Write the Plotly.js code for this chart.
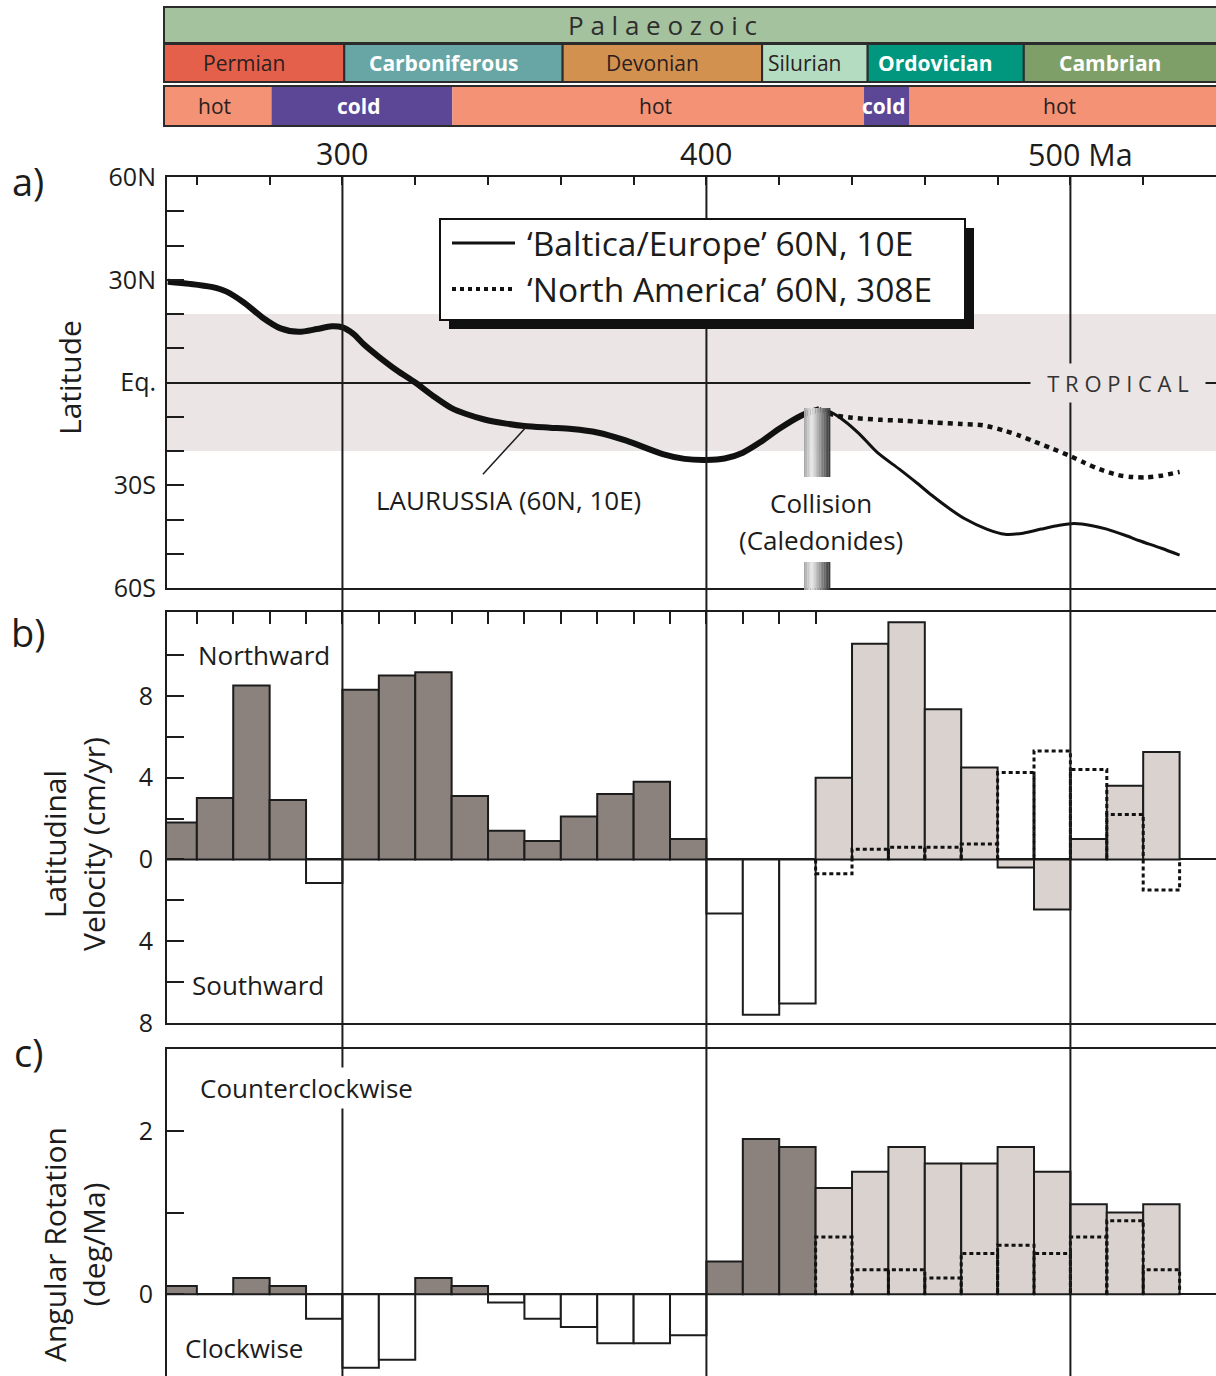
<!DOCTYPE html>
<html>
<head>
<meta charset="utf-8">
<script src="https://cdn.plot.ly/plotly-3.0.1.min.js"></script>
<style>
  html, body { margin: 0; padding: 0; background: #ffffff; }
  #chart { width: 1216px; height: 1376px; }
</style>
</head>
<body>
<div id="chart"></div>
<script>
// ------------------------------------------------------------------
// DATA
// ------------------------------------------------------------------
// Geological time scale
const eraName = 'Palaeozoic';
const periodNames = ['Permian', 'Carboniferous', 'Devonian', 'Silurian', 'Ordovician', 'Cambrian'];
const periodStart = [251, 300.5, 360.5, 415.3, 444.3, 487.2];
const periodEnd   = [300.5, 360.5, 415.3, 444.3, 487.2, 541];
const climateNames = ['hot', 'cold', 'hot', 'cold', 'hot'];
const climateStart = [251, 280.5, 330.2, 443.3, 455.8];
const climateEnd   = [280.5, 330.2, 443.3, 455.8, 541];

// x-axis ticks (Ma)
const ageLabelValues = [300, 400, 500];
const ageLabelText = ['300', '400', '500 Ma'];
const topTicksA = [260, 280, 300, 320, 340, 360, 380, 400, 420, 440, 460, 480, 500, 520];
const topTicksB = [260, 270, 280, 290, 300, 310, 320, 330, 340, 350, 360, 370, 380, 390, 400, 410, 420, 430];

// Panel a: latitude of reference point (60N, 10E) and (60N, 308E)
const baltOldAge = [252, 258, 264, 268, 273, 278, 283, 288, 293, 297, 300, 303, 306, 310, 315, 320, 325, 330, 334, 339, 345, 350, 357, 363, 370, 378, 388, 394, 400, 405, 410, 415, 420, 426, 431];
const baltOldLat = [29.4, 28.8, 27.9, 26.6, 23.3, 19.0, 15.8, 14.8, 15.6, 16.4, 16.1, 14.2, 11.0, 7.5, 3.5, 0.0, -4.0, -7.5, -9.2, -10.8, -12.0, -12.7, -13.2, -13.6, -14.6, -17.0, -20.9, -22.3, -22.6, -22.2, -20.5, -17.3, -13.5, -9.7, -7.8];
const baltYoungAge = [431, 434, 438, 442, 447, 453, 458, 462, 467, 471, 477, 482, 487, 492, 497, 501, 506, 510, 515, 519, 525, 530];
const baltYoungLat = [-7.8, -8.6, -11.3, -15.0, -20.5, -25.3, -29.5, -33.0, -37.0, -39.8, -42.8, -44.3, -44.0, -42.8, -41.7, -41.2, -41.8, -42.8, -44.6, -46.2, -48.4, -50.4];
const namAge = [431, 435, 440, 448, 455, 463, 470, 476, 482, 486, 490, 495, 500, 504, 508, 513, 517, 521, 525, 530];
const namLat = [-7.8, -9.5, -10.3, -10.9, -11.2, -11.7, -12.1, -12.5, -14.1, -15.5, -17.2, -19.3, -21.5, -23.5, -25.3, -27.0, -27.6, -27.7, -27.2, -26.1];

const tropicsLat = 20;          // tropical belt 20S - 20N
const collisionAge = 430;       // Caledonian collision (Ma)

// Panels b & c: 10 Myr bins
const binWidth = 10;
const binStart = [250, 260, 270, 280, 290, 300, 310, 320, 330, 340, 350, 360, 370, 380, 390, 400, 410, 420, 430, 440, 450, 460, 470, 480, 490, 500, 510, 520];
const velBaltica = [1.8, 3.0, 8.5, 2.9, -1.15, 8.3, 9.0, 9.15, 3.1, 1.4, 0.9, 2.1, 3.2, 3.8, 1.0, -2.65, -7.6, -7.05, 4.0, 10.55, 11.6, 7.35, 4.5, -0.4, -2.45, 1.0, 3.6, 5.25];
const rotBaltica = [0.1, 0.0, 0.2, 0.1, -0.3, -0.9, -0.8, 0.2, 0.1, -0.1, -0.3, -0.4, -0.6, -0.6, -0.5, 0.4, 1.9, 1.8, 1.3, 1.5, 1.8, 1.6, 1.6, 1.8, 1.5, 1.1, 1.0, 1.1];
const namBinStart = [430, 440, 450, 460, 470, 480, 490, 500, 510, 520];
const velNorthAmerica = [-0.7, 0.5, 0.6, 0.6, 0.75, 4.25, 5.3, 4.4, 2.2, -1.5];
const rotNorthAmerica = [0.7, 0.3, 0.3, 0.2, 0.5, 0.6, 0.5, 0.7, 0.9, 0.3];

// y-axis ticks
const latTickVals = [60, 50, 40, 30, 20, 10, 0, -10, -20, -30, -40, -50, -60];
const latTickText = ['60N', '', '', '30N', '', '', 'Eq.', '', '', '30S', '', '', '60S'];
const velTickVals = [10, 8, 6, 4, 2, 0, -2, -4, -6, -8];
const velTickText = ['', '8', '', '4', '', '0', '', '4', '', '8'];
const rotTickVals = [2, 1, 0];
const rotTickText = ['2', '', '0'];

// ------------------------------------------------------------------
// STYLE
// ------------------------------------------------------------------
const W = 1216, H = 1376, L = 167;
const px = p => (p - L) / (W - L);   // pixel x -> paper x
const py = p => 1 - p / H;           // pixel y -> paper y
const FONT = 'Open Sans, sans-serif';
const ink = '#1c1c1c';
const frame = '#2b2b2b';
const darkFill = '#8b827d';
const lightFill = '#d9d2cf';
const bandFill = '#ece5e5';
const eraFill = '#a5c29f';
const periodStyle = {
  Permian:       { fill: '#e4604a', text: '#2a2020', bold: false },
  Carboniferous: { fill: '#67a6a4', text: '#ffffff', bold: true },
  Devonian:      { fill: '#d3914f', text: '#2a2020', bold: false },
  Silurian:      { fill: '#b4dcc1', text: '#2a2020', bold: false },
  Ordovician:    { fill: '#00977e', text: '#ffffff', bold: true },
  Cambrian:      { fill: '#7f9f69', text: '#ffffff', bold: true }
};
const climateStyle = {
  hot:  { fill: '#f39274', text: '#2a2020', bold: false },
  cold: { fill: '#5c4696', text: '#ffffff', bold: true }
};
function fillFor(age, v) {
  if (age < collisionAge) return v >= 0 ? darkFill : '#ffffff';
  return lightFill;
}
function outline(starts, vals) {
  const xs = [], ys = [];
  starts.forEach((s, i) => {
    xs.push(s, s, s + binWidth, s + binWidth, null);
    ys.push(0, vals[i], vals[i], 0, null);
  });
  return { xs, ys };
}

// ------------------------------------------------------------------
// TRACES
// ------------------------------------------------------------------
const traces = [];
traces.push({ type: 'scatter', mode: 'lines', x: baltOldAge, y: baltOldLat, xaxis: 'x', yaxis: 'y',
  line: { color: '#111', width: 6, shape: 'spline', smoothing: 0.8 }, hoverinfo: 'skip', showlegend: false, name: 'Laurussia' });
traces.push({ type: 'scatter', mode: 'lines', x: baltYoungAge, y: baltYoungLat, xaxis: 'x', yaxis: 'y',
  line: { color: '#111', width: 3, shape: 'spline', smoothing: 0.8 }, hoverinfo: 'skip', showlegend: false, name: 'Baltica/Europe' });
traces.push({ type: 'scatter', mode: 'lines', x: namAge, y: namLat, xaxis: 'x', yaxis: 'y',
  line: { color: '#111', width: 4.5, dash: '5px,5px', shape: 'spline', smoothing: 0.8 }, hoverinfo: 'skip', showlegend: false, name: 'North America' });

traces.push({ type: 'bar', x: binStart, y: velBaltica, offset: 0, width: binWidth, xaxis: 'x2', yaxis: 'y2',
  marker: { color: velBaltica.map((v, i) => fillFor(binStart[i], v)), line: { color: ink, width: 2 } },
  hoverinfo: 'skip', showlegend: false, name: 'Baltica velocity' });
const vOut = outline(namBinStart, velNorthAmerica);
traces.push({ type: 'scatter', mode: 'lines', x: vOut.xs, y: vOut.ys, xaxis: 'x2', yaxis: 'y2', connectgaps: false,
  line: { color: '#111', width: 3, dash: '4px,3px' }, hoverinfo: 'skip', showlegend: false, name: 'North America velocity' });

traces.push({ type: 'bar', x: binStart, y: rotBaltica, offset: 0, width: binWidth, xaxis: 'x3', yaxis: 'y3',
  marker: { color: rotBaltica.map((v, i) => fillFor(binStart[i], v)), line: { color: ink, width: 2 } },
  hoverinfo: 'skip', showlegend: false, name: 'Baltica rotation' });
const rOut = outline(namBinStart, rotNorthAmerica);
traces.push({ type: 'scatter', mode: 'lines', x: rOut.xs, y: rOut.ys, xaxis: 'x3', yaxis: 'y3', connectgaps: false,
  line: { color: '#111', width: 3, dash: '4px,3px' }, hoverinfo: 'skip', showlegend: false, name: 'North America rotation' });

// ------------------------------------------------------------------
// SHAPES
// ------------------------------------------------------------------
const shapes = [];
// tropical belt
shapes.push({ type: 'rect', xref: 'paper', yref: 'y', x0: 0, x1: 1, y0: -tropicsLat, y1: tropicsLat,
  fillcolor: bandFill, line: { width: 0 }, layer: 'below' });
// time scale rows
const rowEra = [py(43), py(7)], rowPer = [py(82), py(44)], rowCli = [py(126), py(86)];
// small left caps (the rows start a few px left of the plot area)
[[rowEra, eraFill], [rowPer, periodStyle[periodNames[0]].fill], [rowCli, climateStyle[climateNames[0]].fill]].forEach(([r, c]) => {
  shapes.push({ type: 'rect', xref: 'paper', yref: 'paper', x0: px(164), x1: px(175), y0: r[0], y1: r[1],
    fillcolor: c, line: { color: frame, width: 2 }, layer: 'above' });
});
shapes.push({ type: 'rect', xref: 'x', yref: 'paper', x0: periodStart[0], x1: periodEnd[periodEnd.length - 1],
  y0: rowEra[0], y1: rowEra[1], fillcolor: eraFill, line: { color: frame, width: 2 }, layer: 'above' });
periodNames.forEach((n, i) => shapes.push({ type: 'rect', xref: 'x', yref: 'paper', x0: periodStart[i], x1: periodEnd[i],
  y0: rowPer[0], y1: rowPer[1], fillcolor: periodStyle[n].fill, line: { color: frame, width: 2 }, layer: 'above' }));
climateNames.forEach((n, i) => shapes.push({ type: 'rect', xref: 'x', yref: 'paper', x0: climateStart[i], x1: climateEnd[i],
  y0: rowCli[0], y1: rowCli[1], fillcolor: climateStyle[n].fill, line: { width: 0 }, layer: 'above' }));
shapes.push({ type: 'rect', xref: 'paper', yref: 'paper', x0: px(164), x1: 1.01, y0: rowCli[0], y1: rowCli[1],
  fillcolor: 'rgba(0,0,0,0)', line: { color: frame, width: 2 }, layer: 'above' });
// vertical reference lines at 300/400/500 Ma
ageLabelValues.forEach(a => shapes.push({ type: 'line', xref: 'x', yref: 'paper', x0: a, x1: a, y0: 0, y1: py(177),
  line: { color: ink, width: 2 }, layer: 'above' }));
// Laurussia pointer
shapes.push({ type: 'line', xref: 'x', yref: 'y', x0: 338.6, y0: -26.8, x1: 350.3, y1: -13.2, line: { color: ink, width: 1.5 }, layer: 'above' });
// collision bar (gradient imitation)
const nStripes = 16, cw = 7.2;
for (let k = 0; k < nStripes; k++) {
  const t = (k + 0.5) / nStripes;
  let g;
  if (t < 0.3) g = 160 + (236 - 160) * (t / 0.3);
  else g = 236 - (236 - 50) * ((t - 0.3) / 0.7);
  g = Math.round(g);
  const col = `rgb(${g},${g},${g})`;
  const x0 = collisionAge - 3.2 + cw * k / nStripes, x1 = collisionAge - 3.2 + cw * (k + 1) / nStripes + 0.05;
  shapes.push({ type: 'rect', xref: 'x', yref: 'paper', x0, x1, y0: py(477), y1: py(408), fillcolor: col, line: { width: 0 }, layer: 'above' });
  shapes.push({ type: 'rect', xref: 'x', yref: 'paper', x0, x1, y0: py(590), y1: py(562), fillcolor: col, line: { width: 0 }, layer: 'above' });
}
// legend box with shadow
shapes.push({ type: 'rect', xref: 'paper', yref: 'paper', x0: px(449), x1: px(974), y0: py(329), y1: py(228),
  fillcolor: '#111', line: { width: 0 }, layer: 'above' });
shapes.push({ type: 'rect', xref: 'paper', yref: 'paper', x0: px(440), x1: px(965), y0: py(320), y1: py(219),
  fillcolor: '#ffffff', line: { color: '#111', width: 2 }, layer: 'above' });
shapes.push({ type: 'line', xref: 'paper', yref: 'paper', x0: px(452), x1: px(515), y0: py(243), y1: py(243),
  line: { color: '#111', width: 3 }, layer: 'above' });
shapes.push({ type: 'line', xref: 'paper', yref: 'paper', x0: px(452), x1: px(515), y0: py(289), y1: py(289),
  line: { color: '#111', width: 4, dash: '4px,4px' }, layer: 'above' });

// ------------------------------------------------------------------
// ANNOTATIONS
// ------------------------------------------------------------------
const ann = [];
function A(text, x, y, o) {
  ann.push(Object.assign({ text, x, y, xref: 'paper', yref: 'paper', showarrow: false,
    xanchor: 'center', yanchor: 'middle', font: { family: FONT, size: 26, color: ink } }, o || {}));
}
// era and periods
A(eraName.split('').join(' '), px(662), py(25), { font: { family: FONT, size: 26, color: '#2e2e2e' } });
periodNames.forEach((n, i) => {
  const st = periodStyle[n];
  A(st.bold ? '<b>' + n + '</b>' : n, (periodStart[i] + Math.min(periodEnd[i], 540)) / 2, py(63),
    { xref: 'x', xshift: -10, font: { family: FONT, size: 21, color: st.text } });
});
climateNames.forEach((n, i) => {
  const st = climateStyle[n];
  A(st.bold ? '<b>' + n + '</b>' : n, (climateStart[i] + Math.min(climateEnd[i], 540)) / 2, py(106),
    { xref: 'x', xshift: -3, font: { family: FONT, size: 21, color: st.text } });
});
// age labels
ageLabelValues.forEach((a, i) => {
  if (i < ageLabelValues.length - 1) A(ageLabelText[i], a, py(153), { xref: 'x', font: { family: FONT, size: 30.5, color: ink } });
  else A(ageLabelText[i], a, py(154), { xref: 'x', xanchor: 'left', xshift: -44, font: { family: FONT, size: 30.5, color: ink } });
});
// panel letters
A('a)', px(28), py(181), { font: { family: FONT, size: 38, color: ink } });
A('b)', px(28), py(632), { font: { family: FONT, size: 38, color: ink } });
A('c)', px(28), py(1052), { font: { family: FONT, size: 38, color: ink } });
// axis titles
A('Latitude', px(70), py(378), { textangle: -90, font: { family: FONT, size: 30, color: ink } });
A('Latitudinal<br>Velocity (cm/yr)', px(74), py(844), { textangle: -90, font: { family: FONT, size: 30, color: ink } });
A('Angular Rotation<br>(deg/Ma)', px(74), py(1245), { textangle: -90, font: { family: FONT, size: 30, color: ink } });
// panel a labels
A('T R O P I C A L', px(1118), py(383), { bgcolor: bandFill, width: 172, height: 36, font: { family: FONT, size: 22, color: '#333' } });
A('LAURUSSIA (60N, 10E)', px(508), py(500));
A('Collision', px(821), py(503));
A('(Caledonides)', px(821), py(540));
A('‘Baltica/Europe’ 60N, 10E', px(525), py(243), { xanchor: 'left', font: { family: FONT, size: 33.5, color: ink } });
A('‘North America’ 60N, 308E', px(525), py(289), { xanchor: 'left', font: { family: FONT, size: 33.5, color: ink } });
// panel b/c labels
A('Northward', px(196), py(655), { xanchor: 'left' });
A('Southward', px(190), py(985), { xanchor: 'left' });
A('Counterclockwise', px(197), py(1088), { xanchor: 'left', bgcolor: '#ffffff', borderpad: 2 });
A('Clockwise', px(183), py(1348), { xanchor: 'left' });

// ------------------------------------------------------------------
// LAYOUT
// ------------------------------------------------------------------
const xRange = [251.8, 540];
const base = { showgrid: false, zeroline: false, showline: true, linecolor: ink, linewidth: 2,
  tickcolor: ink, tickwidth: 2, fixedrange: true, tickfont: { family: FONT, size: 25, color: ink } };
const layout = {
  width: W, height: H,
  margin: { l: L, r: 0, t: 0, b: 0, pad: 0 },
  paper_bgcolor: '#ffffff', plot_bgcolor: 'rgba(0,0,0,0)',
  showlegend: false, barmode: 'overlay',
  font: { family: FONT, color: ink },
  xaxis: Object.assign({}, base, { range: xRange, domain: [0, 1], anchor: 'y', side: 'top', mirror: true,
    ticks: 'inside', ticklen: 8, tickvals: topTicksA, showticklabels: false }),
  yaxis: Object.assign({}, base, { range: [-60, 60], domain: [py(588), py(177)], anchor: 'x',
    ticks: 'inside', ticklen: 17, tickvals: latTickVals, ticktext: latTickText, ticklabelstandoff: 4,
    zeroline: true, zerolinecolor: ink, zerolinewidth: 2 }),
  xaxis2: Object.assign({}, base, { range: xRange, domain: [0, 1], anchor: 'y2', side: 'top', mirror: true,
    ticks: 'inside', ticklen: 12, tickvals: topTicksB, showticklabels: false }),
  yaxis2: Object.assign({}, base, { range: [-8, 12.1], domain: [py(1023), py(612)], anchor: 'x2',
    ticks: 'inside', ticklen: 17, tickvals: velTickVals, ticktext: velTickText, ticklabelstandoff: 7,
    zeroline: true, zerolinecolor: ink, zerolinewidth: 2 }),
  xaxis3: Object.assign({}, base, { range: xRange, domain: [0, 1], anchor: 'y3', side: 'top', mirror: false,
    ticks: '', showticklabels: false }),
  yaxis3: Object.assign({}, base, { range: [-1, 3], domain: [0, py(1049)], anchor: 'x3',
    ticks: 'inside', ticklen: 17, tickvals: rotTickVals, ticktext: rotTickText, ticklabelstandoff: 7,
    zeroline: true, zerolinecolor: ink, zerolinewidth: 2 }),
  shapes: shapes,
  annotations: ann
};

Plotly.newPlot('chart', traces, layout, { staticPlot: true, displayModeBar: false });
</script>
</body>
</html>
